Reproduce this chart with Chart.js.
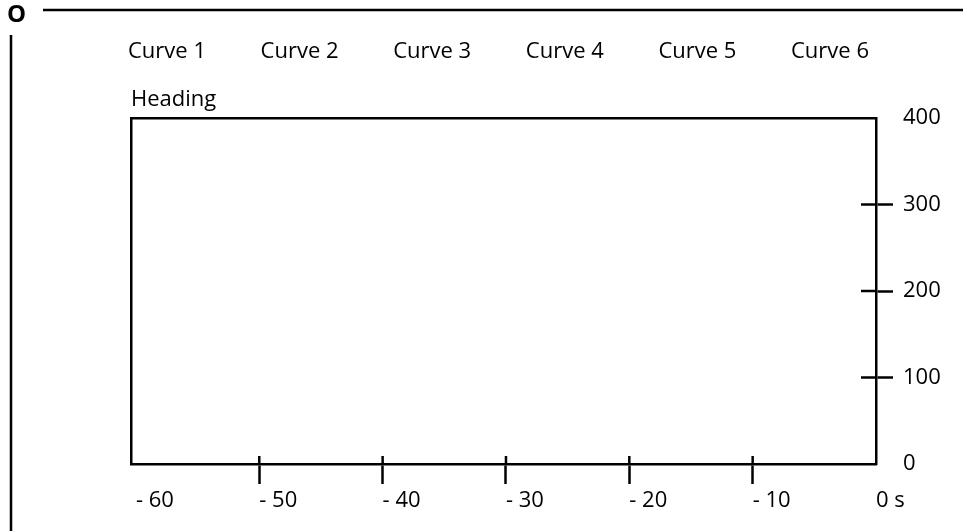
<!DOCTYPE html>
<html>
<head>
<meta charset="utf-8">
<script src="https://cdn.jsdelivr.net/npm/chart.js@4"></script>
<style>
html,body{margin:0;padding:0;background:#fff;}
#wrap{width:963px;height:531px;position:relative;}
</style>
</head>
<body>
<div id="wrap"><canvas id="c" width="963" height="531"></canvas></div>
<script>
const seriesNames = ['Curve 1','Curve 2','Curve 3','Curve 4','Curve 5','Curve 6'];
const xTicks = [-60,-50,-40,-30,-20,-10,0];
const yTicks = [0,100,200,300,400];
const xMin = -60.4, xMax = 0, yMin = 0, yMax = 400;
const headingText = 'Heading';
const cornerMark = 'O';

const FONT = '"Open Sans", "Noto Sans", sans-serif';
const FS = 22;
const INK = '#000';

// legend spacing: measure label width so items are evenly pitched
const mctx = document.createElement('canvas').getContext('2d');
mctx.font = FS + 'px ' + FONT;
const labelW = Math.max(...seriesNames.map(s => mctx.measureText(s).width));
const LEG_PAD = 10;
const LEG_PITCH = 132.6;
const LEG_BOX = Math.max(0, LEG_PITCH - FS / 2 - labelW - LEG_PAD);
const LEFT_PAD = 128 - LEG_PAD - LEG_BOX - FS / 2;
const AREA_LEFT = 131;

const crossTicks = {
  id: 'crossTicks',
  afterDraw(chart) {
    const ctx = chart.ctx;
    const xs = chart.scales.x, ys = chart.scales.y;
    const ca = chart.chartArea;
    ctx.save();
    ctx.strokeStyle = INK;
    ctx.lineWidth = 2.5;
    xTicks.forEach(v => {
      if (v === -60 || v === xMax) return;
      const px = xs.getPixelForValue(v);
      ctx.beginPath(); ctx.moveTo(px, ca.bottom); ctx.lineTo(px, ca.bottom - 8); ctx.stroke();
    });
    yTicks.forEach(v => {
      if (v === yMin || v === yMax) return;
      const py = ys.getPixelForValue(v);
      ctx.beginPath(); ctx.moveTo(ca.right, py); ctx.lineTo(ca.right - 15, py); ctx.stroke();
    });
    // page decorations
    ctx.lineWidth = 2.5;
    ctx.beginPath(); ctx.moveTo(43, 10); ctx.lineTo(963, 10); ctx.stroke();
    ctx.beginPath(); ctx.moveTo(11, 35); ctx.lineTo(11, 531); ctx.stroke();
    ctx.fillStyle = INK;
    ctx.font = 'bold 24px ' + FONT;
    ctx.textBaseline = 'alphabetic';
    ctx.textAlign = 'left';
    ctx.fillText(cornerMark, 7, 22);
    ctx.restore();
  }
};

const datasets = seriesNames.map(n => ({ label: n, data: [], borderColor: INK, backgroundColor: INK }));

new Chart(document.getElementById('c'), {
  type: 'line',
  data: { datasets },
  plugins: [crossTicks],
  options: {
    responsive: false,
    animation: false,
    events: [],
    layout: { padding: { left: LEFT_PAD, top: 31, right: 0, bottom: 0 } },
    plugins: {
      tooltip: { enabled: false },
      legend: {
        position: 'top',
        align: 'start',
        labels: {
          boxWidth: LEG_BOX, boxHeight: 0, padding: LEG_PAD,
          color: INK,
          font: { family: FONT, size: FS },
          generateLabels(chart) {
            return Chart.defaults.plugins.legend.labels.generateLabels(chart).map(it =>
              Object.assign(it, { fillStyle: 'rgba(0,0,0,0)', strokeStyle: 'rgba(0,0,0,0)', fontColor: INK }));
          }
        }
      },
      title: {
        display: true,
        text: headingText,
        position: 'top',
        align: 'start',
        fullSize: false,
        weight: 500,
        color: INK,
        font: { family: FONT, size: FS, weight: 'normal', lineHeight: 1.2 },
        padding: { top: 14, bottom: 4.6 }
      }
    },
    scales: {
      x: {
        type: 'linear', position: 'bottom', min: xMin, max: xMax,
        afterBuildTicks(s) { s.ticks = xTicks.map(v => ({ value: v })); },
        afterFit(s) { s.height = 67; },
        border: { display: true, color: INK, width: 2.5 },
        grid: {
          drawOnChartArea: false, drawTicks: true, tickLength: 20, tickWidth: 2.5,
          tickColor: c => (c.tick && (c.tick.value === -60 || c.tick.value === xMax)) ? 'rgba(0,0,0,0)' : INK
        },
        ticks: {
          color: INK, font: { family: FONT, size: FS }, padding: 4, align: 'start', maxRotation: 0,
          callback: v => v === 0 ? '0 s' : '- ' + Math.abs(v)
        }
      },
      xTop: {
        type: 'linear', position: 'top', min: xMin, max: xMax,
        afterFit(s) { s.height = 0; },
        border: { display: true, color: INK, width: 2.5 },
        grid: { drawOnChartArea: false, drawTicks: false },
        ticks: { display: false }
      },
      y: {
        type: 'linear', position: 'right', min: yMin, max: yMax,
        afterBuildTicks(s) { s.ticks = yTicks.map(v => ({ value: v })); },
        afterFit(s) { s.width = 87; },
        border: { display: true, color: INK, width: 2.5 },
        grid: {
          drawOnChartArea: false, drawTicks: true, tickLength: 17, tickWidth: 2.5,
          tickColor: c => (c.tick && (c.tick.value === yMin || c.tick.value === yMax)) ? 'rgba(0,0,0,0)' : INK
        },
        ticks: { color: INK, font: { family: FONT, size: FS }, padding: 10 }
      },
      yLeft: {
        type: 'linear', position: 'left', min: yMin, max: yMax,
        afterFit(s) { s.width = AREA_LEFT - LEFT_PAD; },
        border: { display: true, color: INK, width: 2.5 },
        grid: { drawOnChartArea: false, drawTicks: false },
        ticks: { display: false }
      }
    }
  }
});
</script>
</body>
</html>
